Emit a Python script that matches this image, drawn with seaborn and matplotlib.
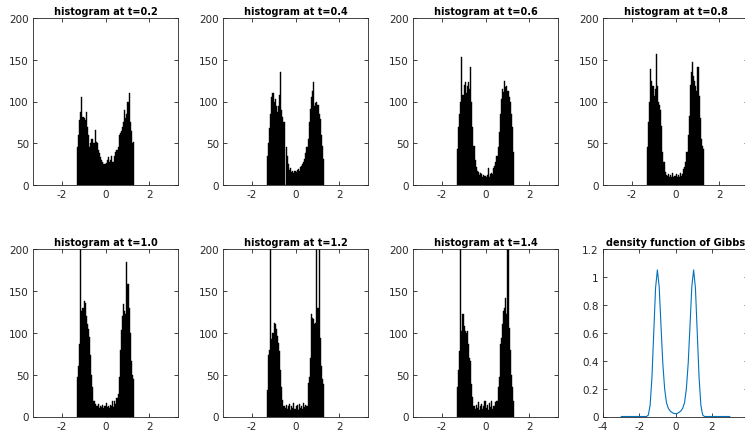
import numpy as np
import pandas as pd
import matplotlib
matplotlib.use("Agg")
import matplotlib.pyplot as plt
import seaborn as sns

# ---------------- data ----------------
bin_width = 0.05
bin_centers = [round(-1.275 + 0.05 * i, 3) for i in range(52)]

hist_t02 = [45, 60, 78, 88, 105, 82, 80, 78, 88, 70, 60, 45, 50, 55, 55, 50, 66, 52, 50, 42,
            38, 33, 30, 28, 25, 25, 26, 30, 33, 27, 30, 35, 27, 27, 35, 40, 42, 45, 60, 62,
            65, 70, 75, 90, 80, 85, 100, 110, 75, 65, 50, 52]
hist_t04 = [35, 50, 68, 85, 105, 110, 100, 103, 95, 88, 95, 108, 135, 90, 82, 75, 0, 45, 35, 25,
            18, 20, 15, 17, 14, 17, 16, 18, 19, 17, 22, 23, 25, 28, 31, 38, 45, 55, 75, 91,
            105, 112, 123, 95, 98, 100, 96, 85, 79, 60, 47, 31]
hist_t06 = [43, 70, 85, 100, 153, 108, 120, 123, 110, 119, 123, 115, 141, 99, 70, 47, 30, 22, 17, 15,
            12, 14, 13, 10, 12, 11, 9, 12, 20, 9, 13, 14, 13, 20, 23, 28, 35, 45, 63, 85,
            103, 115, 111, 125, 117, 119, 112, 105, 99, 85, 70, 39]
hist_t08 = [45, 75, 100, 139, 125, 118, 107, 115, 157, 119, 100, 96, 90, 71, 40, 27, 16, 12, 11, 13,
            9, 12, 10, 14, 9, 11, 13, 10, 12, 9, 14, 11, 13, 19, 22, 27, 39, 60, 83, 120,
            135, 147, 131, 125, 119, 112, 141, 107, 80, 55, 47, 43]
hist_t10 = [47, 60, 87, 205, 126, 130, 138, 136, 120, 110, 105, 95, 74, 50, 35, 19, 15, 13, 12, 15,
            10, 13, 11, 14, 10, 12, 16, 11, 13, 10, 14, 12, 19, 11, 18, 15, 22, 27, 47, 80,
            103, 120, 134, 126, 122, 184, 158, 130, 100, 66, 50, 45]
hist_t12 = [32, 74, 80, 260, 92, 100, 112, 110, 104, 96, 88, 78, 55, 35, 20, 12, 10, 14, 9, 12,
            15, 8, 13, 10, 16, 9, 12, 14, 8, 15, 10, 13, 9, 16, 11, 14, 12, 40, 47, 70,
            122, 118, 116, 110, 112, 240, 130, 230, 94, 60, 45, 39]
hist_t14 = [35, 55, 78, 250, 102, 122, 108, 102, 100, 102, 86, 70, 66, 39, 23, 12, 9, 14, 10, 17,
            8, 12, 15, 9, 13, 18, 10, 14, 8, 16, 11, 19, 9, 13, 12, 17, 19, 35, 47, 86,
            94, 110, 126, 130, 142, 122, 270, 106, 80, 50, 35, 19]

hist_titles = ["histogram at t=0.2", "histogram at t=0.4", "histogram at t=0.6",
               "histogram at t=0.8", "histogram at t=1.0", "histogram at t=1.2",
               "histogram at t=1.4"]
hist_series = [hist_t02, hist_t04, hist_t06, hist_t08, hist_t10, hist_t12, hist_t14]

density_x = [round(-3.0 + 0.1 * i, 1) for i in range(61)]
density_y = [0, 0, 0, 0, 0, 0, 0, 0, 0, 0, 0, 0, 0, 0, 0,
             0.01, 0.08, 0.28, 0.60, 0.92, 1.05, 0.93, 0.65, 0.38, 0.20, 0.10, 0.06, 0.04, 0.03, 0.022,
             0.02,
             0.022, 0.03, 0.04, 0.06, 0.10, 0.20, 0.38, 0.65, 0.93, 1.05, 0.92, 0.60, 0.28, 0.08, 0.01,
             0, 0, 0, 0, 0, 0, 0, 0, 0, 0, 0, 0, 0, 0, 0]
density_title = "density function of Gibbs"

hist_xticks = [-2, 0, 2]
hist_yticks = [0, 50, 100, 150, 200]
dens_xticks = [-4, -2, 0, 2, 4]
dens_xticklabels = ["-4", "-2", "0", "2", ""]
dens_yticks = [0, 0.2, 0.4, 0.6, 0.8, 1.0, 1.2]
dens_yticklabels = ["0", "0.2", "0.4", "0.6", "0.8", "1", "1.2"]

# ---------------- style ----------------
sns.set_style("ticks")
plt.rcParams["font.family"] = ["DejaVu Sans"]
plt.rcParams["axes.unicode_minus"] = False
axis_col = "#262626"

W, H = 745, 435
fig = plt.figure(figsize=(W / 100, H / 100), dpi=100)

lefts = [33, 223, 413, 603]
ax_w = 145
rows = [(19, 186), (250, 417.5)]


def make_ax(col, row):
    top, bot = rows[row]
    return fig.add_axes([lefts[col] / W, (H - bot) / H, ax_w / W, (bot - top) / H])


def style_ax(ax):
    for s in ax.spines.values():
        s.set_color(axis_col)
        s.set_linewidth(0.6)
    ax.tick_params(direction="in", length=3, width=0.6, colors=axis_col,
                   labelsize=7.5, top=True, right=True, pad=3)
    ax.set_xlabel("")
    ax.set_ylabel("")


edges = [c - bin_width / 2 for c in bin_centers] + [bin_centers[-1] + bin_width / 2]

for i, (title, counts) in enumerate(zip(hist_titles, hist_series)):
    ax = make_ax(i % 4, i // 4)
    df = pd.DataFrame({"x": bin_centers, "w": counts})
    sns.histplot(data=df, x="x", weights="w", bins=edges, ax=ax,
                 color="black", alpha=1.0, edgecolor="black", linewidth=0.3)
    ax.set_xlim(-3.3, 3.3)
    ax.set_ylim(0, 200)
    ax.set_xticks(hist_xticks)
    ax.set_yticks(hist_yticks)
    ax.set_title(title, fontsize=7, fontweight="bold", color="black", pad=3)
    style_ax(ax)

ax = make_ax(3, 1)
ddf = pd.DataFrame({"x": density_x, "y": density_y})
sns.lineplot(data=ddf, x="x", y="y", ax=ax, color="#0072BD", linewidth=0.8)
ax.set_xlim(-4, 4)
ax.set_ylim(0, 1.2)
ax.set_xticks(dens_xticks)
ax.set_xticklabels(dens_xticklabels)
ax.set_yticks(dens_yticks)
ax.set_yticklabels(dens_yticklabels)
ax.set_title(density_title, fontsize=7, fontweight="bold", color="black", pad=3)
style_ax(ax)

fig.savefig("out.png", dpi=100)
